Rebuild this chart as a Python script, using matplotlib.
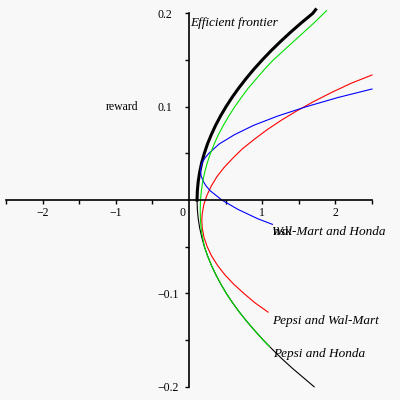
import matplotlib
matplotlib.use('Agg')
import matplotlib.pyplot as plt

plt.rcParams['font.family'] = ['Liberation Serif', 'DejaVu Serif']

# efficient frontier (minimum variance set), upper branch is the efficient one
frontier_upper_reward = [0.0, 0.01, 0.02, 0.03, 0.04, 0.05, 0.06, 0.07, 0.08, 0.09, 0.10,
                         0.11, 0.12, 0.13, 0.14, 0.15, 0.16, 0.17, 0.18, 0.19, 0.20, 0.204]
frontier_upper_risk = [0.11, 0.114, 0.126, 0.146, 0.173, 0.209, 0.252, 0.304, 0.363, 0.43, 0.505,
                       0.588, 0.679, 0.778, 0.884, 0.999, 1.121, 1.252, 1.39, 1.536, 1.69, 1.73]
frontier_lower_reward = [0.0, -0.01, -0.02, -0.03, -0.04, -0.05, -0.06, -0.07, -0.08, -0.09, -0.10,
                         -0.11, -0.12, -0.13, -0.14, -0.15, -0.16, -0.17, -0.18, -0.19, -0.20]
frontier_lower_risk = [0.11, 0.114, 0.126, 0.146, 0.175, 0.21, 0.255, 0.307, 0.367, 0.435, 0.51,
                       0.595, 0.688, 0.79, 0.9, 1.015, 1.14, 1.27, 1.41, 1.56, 1.71]

# Pepsi and Honda
ph_reward = [0.203, 0.19, 0.18, 0.17, 0.16, 0.15, 0.14, 0.13, 0.12, 0.11, 0.10, 0.09, 0.08,
             0.07, 0.06, 0.05, 0.04, 0.03, 0.02, 0.01, 0.0, -0.01, -0.02, -0.03, -0.04,
             -0.05, -0.06, -0.07, -0.08, -0.09, -0.10, -0.11, -0.12, -0.13, -0.14, -0.15, -0.157]
ph_risk = [1.88, 1.71, 1.57, 1.43, 1.29, 1.15, 1.03, 0.92, 0.81, 0.715, 0.625, 0.543, 0.469,
           0.40, 0.344, 0.293, 0.25, 0.215, 0.188, 0.169, 0.157, 0.153, 0.156, 0.165, 0.185,
           0.212, 0.255, 0.307, 0.367, 0.435, 0.51, 0.595, 0.688, 0.79, 0.9, 1.015, 1.10]

# Pepsi and Wal-Mart
pw_reward = [-0.12, -0.11, -0.10, -0.09, -0.08, -0.07, -0.06, -0.05, -0.04, -0.03, -0.022,
             -0.015, -0.005, 0.005, 0.015, 0.025, 0.035, 0.045, 0.055, 0.065, 0.075, 0.085,
             0.095, 0.105, 0.115, 0.125, 0.134]
pw_risk = [1.08, 0.90, 0.75, 0.61, 0.49, 0.39, 0.31, 0.249, 0.205, 0.181, 0.175,
           0.18, 0.202, 0.244, 0.304, 0.38, 0.48, 0.60, 0.73, 0.89, 1.06, 1.25,
           1.46, 1.69, 1.94, 2.21, 2.5]

# Wal-Mart and Honda
wh_reward = [0.119, 0.11, 0.10, 0.09, 0.08, 0.07, 0.06, 0.05, 0.045, 0.04, 0.035, 0.031,
             0.026, 0.02, 0.015, 0.01, 0.0, -0.01, -0.02, -0.026]
wh_risk = [2.5, 2.04, 1.60, 1.21, 0.88, 0.62, 0.41, 0.27, 0.217, 0.18, 0.163, 0.158,
           0.166, 0.195, 0.235, 0.29, 0.45, 0.67, 0.94, 1.14]

xticks = [-2, -1, 1, 2]
xtick_labels = ['\u22122', '\u22121', '1', '2']
yticks = [-0.2, -0.1, 0.1, 0.2]
ytick_labels = ['\u22120.2', '\u22120.1', '0.1', '0.2']

fig = plt.figure(figsize=(4, 4), dpi=100, facecolor='#f8f8f8')
ax = fig.add_axes([0.015, 0.033, 0.915, 0.9335])
ax.set_facecolor('#f8f8f8')

ax.plot(frontier_upper_risk, frontier_upper_reward, color='black', linewidth=2.2, clip_on=False)
ax.plot(frontier_lower_risk, frontier_lower_reward, color='black', linewidth=0.8, clip_on=False)
ax.plot(pw_risk, pw_reward, color='#ff0000', linewidth=0.8, clip_on=False)
ax.plot(wh_risk, wh_reward, color='#0000ff', linewidth=0.8, clip_on=False)
ax.plot(ph_risk, ph_reward, color='#00e000', linewidth=0.8, clip_on=False)

ax.set_xlim(-2.5, 2.5)
ax.set_ylim(-0.2, 0.2)

for side in ['top', 'right']:
    ax.spines[side].set_visible(False)
ax.spines['left'].set_position(('data', 0))
ax.spines['bottom'].set_position(('data', 0))
ax.spines['left'].set_linewidth(1.2)
ax.spines['bottom'].set_linewidth(1.2)

ax.set_xticks(xticks)
ax.set_xticklabels(xtick_labels)
ax.set_xticks([-2.5, -1.5, -0.5, 0.5, 1.5, 2.5], minor=True)
ax.set_yticks(yticks)
ax.set_yticklabels(ytick_labels)
ax.set_yticks([-0.15, -0.05, 0.05, 0.15], minor=True)
ax.tick_params(which='both', direction='out', length=3, width=1, labelsize=8.5)
ax.tick_params(axis='x', pad=2)
ax.tick_params(axis='y', pad=20)
for lab in ax.get_yticklabels():
    lab.set_horizontalalignment('left')

ax.text(-0.086, -0.014, '0', fontsize=8.5, ha='center', va='center')
ax.text(-1.14, 0.1, 'reward', fontsize=8.5, ha='left', va='center')
# the reference draws the axis label right on top of the blue curve's label
ax.text(1.14, -0.034, 'risk', fontsize=9.5, ha='left', va='center', clip_on=False)
ax.text(1.14, -0.034, 'Wal-Mart and Honda', fontsize=9.5, style='italic',
        ha='left', va='center', clip_on=False)
ax.text(1.14, -0.129, 'Pepsi and Wal-Mart', fontsize=9.5, style='italic',
        ha='left', va='center', clip_on=False)
ax.text(1.15, -0.165, 'Pepsi and Honda', fontsize=9.5, style='italic',
        ha='left', va='center', clip_on=False)
ax.text(0.02, 0.19, 'Efficient frontier', fontsize=9.5, style='italic',
        ha='left', va='center', clip_on=False)

fig.savefig('out.png', dpi=100, facecolor=fig.get_facecolor())
